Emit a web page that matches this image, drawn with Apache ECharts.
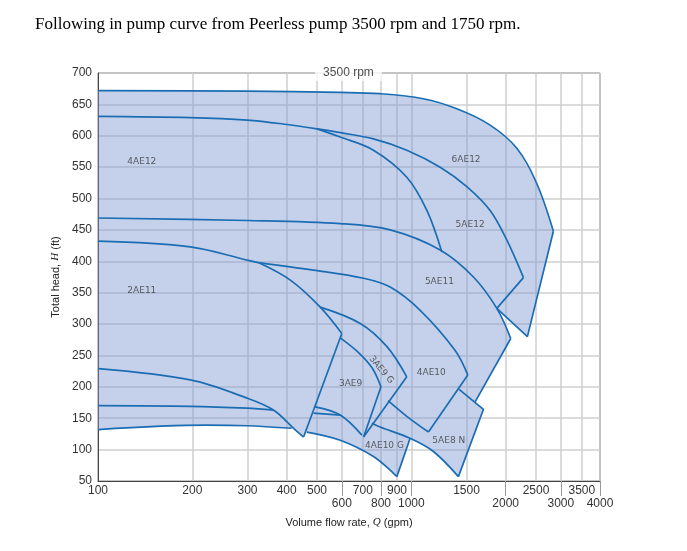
<!DOCTYPE html>
<html>
<head>
<meta charset="utf-8">
<script src="https://cdn.jsdelivr.net/npm/echarts@6/dist/echarts.min.js"></script>
<style>
html,body{margin:0;padding:0;background:#fff;}
#myChart{width:687px;height:551px;}
</style>
</head>
<body>
<div id="myChart"></div>
<script>
// 泵曲线数据 [Q (gpm), H (ft)]
const curve672 = [[100,672],[299,671],[593,669],[795,667],[1091,659],[1397,643],[1784,617],[2171,580],[2513,524],[2840,448]];
const end6AE12 = [[2840,448],[2346,280],[1874,325]];
const curve630 = [[100,631],[197,629],[299,625],[401,618],[500,611]];
const curve5AE12 = [[500,611],[593,605],[757,595],[967,577],[1236,550],[1503,519],[1784,481],[2016,434],[2279,374]];
const end5AE12 = [[2279,374],[1874,325]];
const curve4AE12 = [[500,611],[593,598],[757,577],[967,534],[1121,481],[1251,415]];
const curve467 = [[100,469],[299,465],[593,460],[856,450],[1236,418],[1578,375],[1874,325],[2076,277]];
const end5AE11 = [[2076,277],[1598,176]];
const curve432 = [[100,432],[197,423],[299,402],[325,398]];
const curve4AE10 = [[325,398],[487,386],[704,373],[856,359],[1067,322],[1380,258],[1514,219]];
const end4AE10 = [[1514,219],[1134,128]];
const bottom4AE10 = [[1134,128],[967,153],[843,178]];
const curve2AE11 = [[325,398],[411,370],[512,327],[600,285]];
const end2AE11 = [[600,285],[453,120]];
const curve230 = [[100,229],[197,211],[299,182],[363,163],[421,134],[453,120]];
const curve172 = [[100,170],[197,169],[299,166],[363,163]];
const curve134a = [[100,132],[222,139],[299,138],[415,134]];
const curve134b = [[464,128],[593,115],[757,89],[899,57]];
const curve3AE9G = [[512,327],[687,301],[836,264],[967,216]];
const end3AE9G = [[967,216],[704,120]];
const curve3AE9 = [[593,278],[677,255],[750,230],[800,200]];
const end3AE9 = [[800,200],[704,120]];
const bottom3AE9a = [[493,168],[593,155],[695,123]];
const bottom3AE9b = [[487,158],[593,155]];
const bottom5AE8N = [[748,142],[795,136],[991,118],[1176,97],[1413,57]];
const end4AE10G = [[991,118],[899,57]];
const edge5AE8N = [[1421,196],[1698,164],[1413,57]];

// 填充区域外轮廓
const fillOutline = [[100,672],[299,671],[593,669],[795,667],[1091,659],[1397,643],[1784,617],[2171,580],[2513,524],[2840,448],
  [2346,280],[1874,325],[2076,277],[1598,176],[1698,164],[1413,57],[1176,97],[991,118],[899,57],[757,89],[593,115],
  [464,128],[453,120],[421,134],[299,138],[222,139],[100,132]];

// 型号标注
const labelNames = ['4AE12','6AE12','5AE12','5AE11','2AE11','3AE9','3AE9 G','4AE10','4AE10 G','5AE8 N'];
const labelQ = [138,1495,1540,1229,138,640,802,1158,821,1317];
const labelH = [558,562,458,367,354,205,227,223,106,114];

// 坐标刻度
const gridQ = [100,200,300,400,500,600,700,800,900,1000,1500,2000,2500,3000,3500,4000];
const labelsTopRow = [100,200,300,400,500,700,900,1500,2500,3500];
const labelsBottomRow = [600,800,1000,2000,3000,4000];
const rpmLabelAt = [630,700];

const smoothCurves = [curve672,curve630,curve5AE12,curve4AE12,curve467,curve432,curve4AE10,bottom4AE10,curve2AE11,
  curve230,curve172,curve134a,curve134b,curve3AE9G,curve3AE9,bottom3AE9a,bottom3AE9b,bottom5AE8N];
const straightLines = [end6AE12,end5AE12,end5AE11,end4AE10,end2AE11,end3AE9G,end3AE9,end4AE10G,edge5AE8N];

let myChart = echarts.init(document.getElementById('myChart'));

function lineSeries(pts, smooth){
  return {
    type:'line', data:pts, smooth: smooth ? 0.35 : false,
    symbol:'none', silent:true, z:3,
    lineStyle:{color:'#1b6db3', width:1.7}
  };
}

let series = [];
// 填充
series.push({
  type:'custom', data:[[100,672]], silent:true, z:2,
  renderItem:(params, api) => ({
    type:'polygon',
    shape:{points: fillOutline.map(p => api.coord(p))},
    style:{fill:'rgba(126,153,211,0.45)'}
  })
});
smoothCurves.forEach(c => series.push(lineSeries(c, true)));
straightLines.forEach(c => series.push(lineSeries(c, false)));
// 型号文字
series.push({
  type:'scatter', symbolSize:0, silent:true, z:4,
  data: labelNames.map((n,i) => ({
    name:n, value:[labelQ[i], labelH[i]],
    label: n === '3AE9 G' ? {rotate:-50} : {}
  })),
  label:{show:true, position:'inside', formatter:'{b}', color:'#3a3a3a', fontSize:9, fontFamily:'DejaVu Sans'}
});
// 3500 rpm
series.push({
  type:'scatter', symbolSize:0, silent:true, z:5, clip:false,
  data:[rpmLabelAt],
  label:{show:true, position:'inside', formatter:'3500 rpm', color:'#222', fontSize:12,
    fontFamily:'Liberation Sans', backgroundColor:'#fff', padding:[2,8]}
});

var option = {
  backgroundColor:'#fff',
  animation:false,
  title:{
    text:'Following in pump curve from Peerless pump 3500 rpm and 1750 rpm.',
    left:30, top:11,
    textStyle:{fontFamily:'Liberation Serif', fontSize:17, fontWeight:'normal', color:'#000'}
  },
  grid:{left:98, right:87, top:73, bottom:70, show:true, borderColor:'#444', borderWidth:1, backgroundColor:'transparent'},
  xAxis:[
    {
      type:'log', logBase:10, min:100, max:4000, position:'bottom',
      name:'Volume flow rate, {i|Q} (gpm)', nameLocation:'middle', nameGap:36,
      nameTextStyle:{fontSize:11, color:'#222', fontFamily:'Liberation Sans', rich:{i:{fontStyle:'italic', fontSize:11, fontFamily:'Liberation Serif'}}},
      axisLine:{show:true, lineStyle:{color:'#444', width:1}},
      axisTick:{show:false, customValues:gridQ},
      axisLabel:{customValues:labelsTopRow, margin:4, fontSize:12, color:'#333', fontFamily:'Liberation Sans',
        formatter:v => String(Math.round(v))},
      splitLine:{show:true, lineStyle:{color:'#cfcfcf', width:1.5}},
      minorTick:{show:false}
    },
    {
      type:'log', logBase:10, min:100, max:4000, position:'bottom',
      axisLine:{show:false},
      axisTick:{show:true, customValues:labelsBottomRow, length:15, lineStyle:{color:'#999'}},
      axisLabel:{customValues:labelsBottomRow, margin:17, fontSize:12, color:'#333', fontFamily:'Liberation Sans',
        formatter:v => String(Math.round(v))},
      splitLine:{show:false}
    }
  ],
  yAxis:{
    type:'value', min:50, max:700, interval:50,
    name:'Total head, {i|H} (ft)', nameLocation:'middle', nameGap:33,
    nameTextStyle:{fontSize:11, color:'#222', fontFamily:'Liberation Sans', rich:{i:{fontStyle:'italic', fontSize:11, fontFamily:'Liberation Serif'}}},
    axisLine:{show:true, lineStyle:{color:'#444', width:1}},
    axisTick:{show:false},
    axisLabel:{fontSize:12, color:'#333', margin:6, fontFamily:'Liberation Sans'},
    splitLine:{show:true, lineStyle:{color:'#cfcfcf', width:1.5}}
  },
  series: series
};
window.onresize = myChart.resize;
myChart.setOption(option);
</script>
</body>
</html>
